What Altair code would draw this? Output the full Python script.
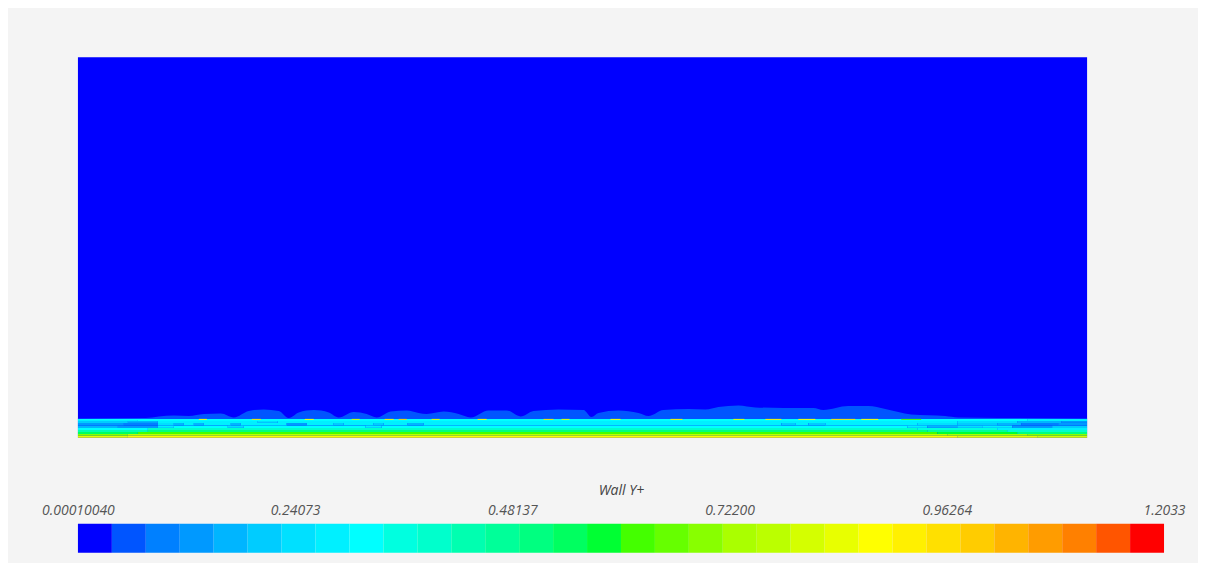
import altair as alt
import pandas as pd

# ---------------- colour map (32 discrete levels) ----------------
VMIN = 0.00010040
VMAX = 1.2033
PALETTE = ["#0000ff", "#0055ff", "#0080ff", "#0099ff", "#00b5ff", "#00ccff", "#00e0ff", "#00f0ff",
           "#00ffff", "#00ffe0", "#00ffcc", "#00ffb0", "#00ff99", "#00ff80", "#00ff60", "#00ff33",
           "#44ff00", "#66ff00", "#88ff00", "#aaff00", "#bbff00", "#d4ff00", "#e8ff00", "#ffff00",
           "#fff000", "#ffe000", "#ffcc00", "#ffb400", "#ff9c00", "#ff8000", "#ff5500", "#ff0000"]
TICK_VALUES = [0.00010040, 0.24073, 0.48137, 0.72200, 0.96264, 1.2033]
TICK_LABELS = ["0.00010040", "0.24073", "0.48137", "0.72200", "0.96264", "1.2033"]
TITLE = "Wall Y+"

# ---------------- field (wall-adjacent plane) ----------------
FIELD_LENGTH = 1010.0
FIELD_HEIGHT = 381.0
BAND_TOP = 19.0
FREE_STREAM_VALUE = 0.02

# near-wall band rows: (x breakpoint, Wall Y+) pairs, bottom row first
ROW_EDGES = [0, 2, 4, 6, 8, 10, 12.5, 15, 17, 18, 19]
ROWS = [
    [(0, 0.85), (50, 0.88), (880, 0.85), (960, 0.81)],
    [(0, 0.70), (50, 0.77), (870, 0.73), (950, 0.70)],
    [(0, 0.55), (60, 0.62), (860, 0.58), (940, 0.51)],
    [(0, 0.43), (70, 0.51), (850, 0.47), (930, 0.40)],
    [(0, 0.32), (70, 0.40), (840, 0.36), (920, 0.28)],
    [(0, 0.17), (40, 0.13), (80, 0.28), (96, 0.32), (150, 0.24), (166, 0.32), (288, 0.28),
     (304, 0.32), (830, 0.28), (850, 0.17), (880, 0.24), (905, 0.28), (935, 0.13), (975, 0.21)],
    [(0, 0.13), (46, 0.09), (80, 0.24), (96, 0.17), (106, 0.28), (116, 0.17), (126, 0.28),
     (153, 0.17), (163, 0.28), (209, 0.13), (229, 0.28), (256, 0.21), (266, 0.28), (296, 0.21),
     (306, 0.28), (330, 0.17), (346, 0.28), (704, 0.21), (718, 0.28), (731, 0.21), (748, 0.28),
     (840, 0.24), (880, 0.21), (920, 0.17), (944, 0.09), (981, 0.13)],
    [(0, 0.21), (50, 0.17), (80, 0.28), (180, 0.24), (200, 0.28), (880, 0.24), (940, 0.17),
     (984, 0.13)],
    [(0, 0.28), (60, 0.32), (950, 0.28)],
    [(0, 0.32), (950, 0.28)],
]

# bright dashes along the top of the band
DASH_START = [121, 174, 227, 274, 307, 321, 354, 400, 466, 484, 533, 593, 656, 688, 721, 754, 784, 824]
DASH_END = [129, 183, 236, 282, 316, 329, 362, 409, 476, 492, 543, 605, 667, 704, 738, 778, 801, 844]
DASH_VALUE = [0.88, 0.96, 0.88, 0.81, 0.92, 1.00, 0.85, 0.88, 0.96, 0.85, 0.88, 0.92, 0.85,
              0.92, 0.88, 0.96, 0.88, 0.62]

# wavy low-Y+ structures rising above the band
BUMP_X = [0, 68, 81, 96, 111, 126, 143, 156, 171, 186, 201, 211, 221, 236, 251, 261, 276, 289,
          299, 313, 329, 341, 349, 366, 381, 393, 411, 429, 443, 456, 481, 506, 514, 521, 541,
          561, 571, 586, 611, 628, 641, 661, 678, 706, 736, 746, 771, 791, 808, 821, 834, 868,
          881, 921, 1010]
BUMP_H = [0.5, 1, 2.5, 3.5, 3, 5, 5.5, 1.5, 8, 9.5, 8, 1, 6.5, 8.8, 6.5, 1.5, 7, 5, 1.5, 7.5,
          8.5, 6, 5, 7.5, 5, 1.5, 8.5, 8.5, 2.5, 8, 9.5, 9, 2, 6, 8.5, 6, 3, 9, 10, 9.5, 12,
          13.5, 11.5, 11, 11, 9, 13, 13, 10, 7, 4.5, 3, 1.5, 1, 0.5]
BUMP_VALUE = 0.06

# ---------------- build tables ----------------
step = (VMAX - VMIN) / len(PALETTE)
thresholds = [VMIN + k * step for k in range(1, len(PALETTE))]
color_scale = alt.Scale(type="threshold", domain=thresholds, range=PALETTE)

cells = [dict(x0=0.0, x1=FIELD_LENGTH, y0=0.0, y1=FIELD_HEIGHT, v=FREE_STREAM_VALUE)]
band = []
for r, row in enumerate(ROWS):
    for i, (xs, val) in enumerate(row):
        xe = row[i + 1][0] if i + 1 < len(row) else FIELD_LENGTH
        band.append(dict(x0=xs, x1=xe, y0=ROW_EDGES[r], y1=ROW_EDGES[r + 1], v=val))
for xs, xe, val in zip(DASH_START, DASH_END, DASH_VALUE):
    band.append(dict(x0=xs, x1=xe, y0=ROW_EDGES[-2], y1=ROW_EDGES[-1], v=val))

bg_df = pd.DataFrame(cells)
band_df = pd.DataFrame(band)
bump_df = pd.DataFrame({"x": BUMP_X, "top": [BAND_TOP + h for h in BUMP_H],
                        "base": BAND_TOP, "v": BUMP_VALUE})

xs_field = alt.Scale(domain=[0, FIELD_LENGTH], nice=False, zero=False)
ys_field = alt.Scale(domain=[0, FIELD_HEIGHT], nice=False, zero=False)

bg = alt.Chart(bg_df).mark_rect().encode(
    x=alt.X("x0:Q", scale=xs_field, axis=None), x2="x1:Q",
    y=alt.Y("y0:Q", scale=ys_field, axis=None), y2="y1:Q",
    color=alt.Color("v:Q", scale=color_scale, legend=None),
)
bumps = alt.Chart(bump_df).mark_area(interpolate="monotone").encode(
    x=alt.X("x:Q", scale=xs_field, axis=None),
    y=alt.Y("top:Q", scale=ys_field, axis=None), y2="base:Q",
    color=alt.Color("v:Q", scale=color_scale, legend=None),
)
bandl = alt.Chart(band_df).mark_rect().encode(
    x=alt.X("x0:Q", scale=xs_field, axis=None), x2="x1:Q",
    y=alt.Y("y0:Q", scale=ys_field, axis=None), y2="y1:Q",
    color=alt.Color("v:Q", scale=color_scale, legend=None),
)
field = alt.layer(bg, bumps, bandl).properties(width=1010, height=381)

# ---------------- colour bar ----------------
bar_df = pd.DataFrame({
    "lo": [VMIN + k * step for k in range(len(PALETTE))],
    "hi": [VMIN + (k + 1) * step for k in range(len(PALETTE))],
    "mid": [VMIN + (k + 0.5) * step for k in range(len(PALETTE))],
})
label_expr = "'" + TICK_LABELS[-1] + "'"
for v, lab in reversed(list(zip(TICK_VALUES[:-1], TICK_LABELS[:-1]))):
    label_expr = f"abs(datum.value - {v}) < 0.000001 ? '{lab}' : " + label_expr

colorbar = alt.Chart(bar_df).mark_rect().encode(
    x=alt.X("lo:Q", scale=alt.Scale(domain=[VMIN, VMAX], nice=False, zero=False),
            axis=alt.Axis(orient="top", values=TICK_VALUES, labelExpr=label_expr,
                          title=TITLE, domain=False, ticks=False, grid=False,
                          labelFont="Open Sans", labelFontSize=14, labelFontStyle="italic",
                          labelColor="#555555", labelPadding=6, labelOverlap=False,
                          labelFlush=False,
                          titleFont="Open Sans", titleFontSize=14, titleFontStyle="italic",
                          titleFontWeight="normal", titleColor="#444444", titlePadding=6)),
    x2="hi:Q",
    color=alt.Color("mid:Q", scale=color_scale, legend=None),
).properties(width=1087, height=29)

chart = alt.vconcat(field, colorbar, spacing=86, bounds="flush").resolve_scale(
    x="independent", y="independent"
).properties(
    padding={"left": 33, "top": 49, "right": 12, "bottom": 10},
    background="#f4f4f4",
).configure_view(stroke=None)

chart.save("out.html", embed_options={"renderer": "svg", "actions": False})
